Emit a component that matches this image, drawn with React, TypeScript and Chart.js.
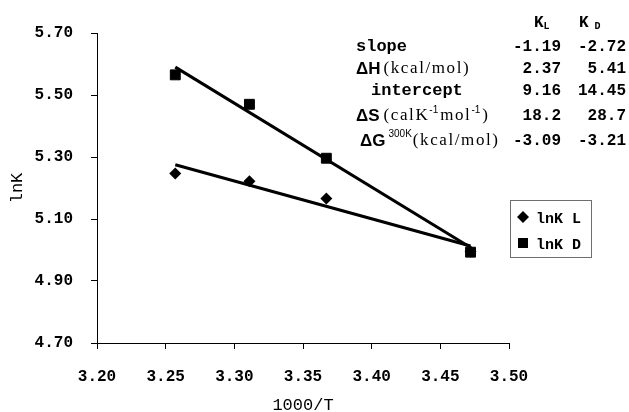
import React, { useEffect, useRef } from "react";
import { Chart, registerables } from "chart.js";
Chart.register(...registerables);

// ---- data ----
const invT = [3.257, 3.311, 3.367, 3.472];
const lnKL = [5.247, 5.222, 5.166, 4.995];
const lnKD = [5.565, 5.47, 5.296, 4.993];
const fitX = [3.257, 3.472];
const fitL = [5.275, 5.013];
const fitD = [5.59, 5.008];
const seriesNames = ["lnK L", "lnK D"];

const colHeads = ["K", "K"];
const colSubs = ["L", "D"];
const rowLabels = ["slope", "ΔH", "intercept", "ΔS", "ΔG"];
const valsL = ["-1.19", "2.37", "9.16", "18.2", "-3.09"];
const valsD = ["-2.72", "5.41", "14.45", "28.7", "-3.21"];

const MONO = "'Liberation Mono', 'Courier New', monospace";
const SANS = "'Liberation Sans', Arial, sans-serif";
const SERIF = "'Liberation Serif', 'Times New Roman', serif";

type Seg = { t: string; f: string; dy?: number; gap?: number; ls?: string };

function drawSegs(ctx: CanvasRenderingContext2D, x: number, y: number, segs: Seg[]) {
  let cx = x;
  for (const s of segs) {
    cx += s.gap || 0;
    ctx.font = s.f;
    (ctx as any).letterSpacing = s.ls || "0px";
    ctx.fillText(s.t, cx, y + (s.dy || 0));
    cx += ctx.measureText(s.t).width;
  }
  (ctx as any).letterSpacing = "0px";
}

const tablePlugin = {
  id: "tablePlugin",
  afterDraw(chart: any) {
    const ctx: CanvasRenderingContext2D = chart.ctx;
    ctx.save();
    ctx.fillStyle = "#000";
    ctx.textBaseline = "middle";
    ctx.textAlign = "left";
    // header
    const hx = [534, 579];
    colHeads.forEach((h, i) => {
      drawSegs(ctx, hx[i], 23, [
        { t: h, f: `bold 16px ${MONO}` },
        { t: colSubs[i], f: `bold 10px ${MONO}`, dy: 3, gap: i === 1 ? 6 : 0 },
      ]);
    });
    const ry = [47, 69, 91, 116, 141];
    const unitF = `17px ${SERIF}`;
    const LS = "1.6px";
    const supF = `10px ${SANS}`;
    const labF = `bold 17px ${MONO}`;
    const dF = `bold 17px ${SANS}`;
    const rowSegs: Seg[][] = [
      [{ t: rowLabels[0], f: labF }],
      [{ t: rowLabels[1], f: dF }, { t: "(kcal/mol)", f: unitF, gap: 3, ls: LS }],
      [{ t: rowLabels[2], f: labF }],
      [
        { t: rowLabels[3], f: dF },
        { t: "(calK", f: unitF, gap: 4, ls: LS },
        { t: "-1", f: supF, dy: -6 },
        { t: "mol", f: unitF, gap: 2, ls: LS },
        { t: "-1", f: supF, dy: -6 },
        { t: ")", f: unitF, gap: 2 },
      ],
      [
        { t: rowLabels[4], f: dF },
        { t: "300K", f: supF, dy: -7, gap: 3 },
        { t: "(kcal/mol)", f: unitF, gap: 1, ls: LS },
      ],
    ];
    const rx = [356, 356, 371, 356, 360];
    rowSegs.forEach((segs, i) => drawSegs(ctx, rx[i], ry[i], segs));
    ctx.textAlign = "right";
    ctx.font = `bold 16px ${MONO}`;
    valsL.forEach((v, i) => ctx.fillText(v, 561, ry[i]));
    valsD.forEach((v, i) => ctx.fillText(v, 626, ry[i]));

    // legend
    ctx.textAlign = "left";
    ctx.strokeStyle = "#6e6e6e";
    ctx.lineWidth = 1;
    ctx.strokeRect(510.5, 200.5, 81, 57);
    const ly = [217, 243];
    ctx.fillStyle = "#000";
    ctx.beginPath();
    ctx.moveTo(523, ly[0] - 6);
    ctx.lineTo(529, ly[0]);
    ctx.lineTo(523, ly[0] + 6);
    ctx.lineTo(517, ly[0]);
    ctx.closePath();
    ctx.fill();
    ctx.fillRect(518, ly[1] - 5, 10, 10);
    ctx.font = `bold 15px ${MONO}`;
    seriesNames.forEach((n, i) => ctx.fillText(n, 536, ly[i] + 2));
    ctx.restore();
  },
};

export default function App() {
  const ref = useRef<HTMLCanvasElement>(null);
  useEffect(() => {
    document.body.style.margin = "0";
    const tickFont = { family: MONO, size: 16, weight: "bold" as const };
    const chart = new Chart(ref.current!, {
      type: "scatter",
      data: {
        datasets: [
          {
            label: seriesNames[1],
            data: invT.map((x, i) => ({ x, y: lnKD[i] })),
            pointStyle: "rect",
            pointRadius: 7,
            backgroundColor: "#000",
            borderColor: "#000",
            borderWidth: 1,
          },
          {
            label: seriesNames[0],
            data: invT.map((x, i) => ({ x, y: lnKL[i] })),
            pointStyle: "rectRot",
            pointRadius: 6,
            backgroundColor: "#000",
            borderColor: "#000",
            borderWidth: 0,
          },
          {
            label: "fitD",
            data: fitX.map((x, i) => ({ x, y: fitD[i] })),
            showLine: true,
            pointRadius: 0,
            borderColor: "#000",
            borderWidth: 3,
          },
          {
            label: "fitL",
            data: fitX.map((x, i) => ({ x, y: fitL[i] })),
            showLine: true,
            pointRadius: 0,
            borderColor: "#000",
            borderWidth: 3,
          },
        ],
      },
      options: {
        responsive: false,
        animation: false,
        devicePixelRatio: 1,
        layout: { padding: { top: 33, right: 120, left: 0, bottom: 0 } },
        plugins: { legend: { display: false }, tooltip: { enabled: false } },
        scales: {
          x: {
            type: "linear",
            min: 3.2,
            max: 3.5,
            afterFit: (s: any) => {
              s.height = 69;
            },
            ticks: {
              stepSize: 0.05,
              callback: (v: any) => Number(v).toFixed(2),
              font: tickFont,
              color: "#000",
              padding: 18,
              maxRotation: 0,
            },
            grid: { drawOnChartArea: false, drawTicks: true, tickLength: 6, color: "#000" },
            border: { display: true, color: "#000", width: 1 },
            title: {
              display: true,
              text: "1000/T",
              font: { family: MONO, size: 17, lineHeight: 1 },
              color: "#000",
              padding: { top: 0, bottom: -2 },
            },
          },
          y: {
            min: 4.7,
            max: 5.7,
            afterFit: (s: any) => {
              s.width = 97;
            },
            ticks: {
              stepSize: 0.2,
              callback: (v: any) => Number(v).toFixed(2),
              font: tickFont,
              color: "#000",
              padding: 18,
            },
            grid: { drawOnChartArea: false, drawTicks: true, tickLength: 6, color: "#000" },
            border: { display: true, color: "#000", width: 1 },
            title: {
              display: true,
              text: "lnK",
              font: { family: MONO, size: 17, lineHeight: 1 },
              color: "#000",
              padding: { top: 9, bottom: 0 },
            },
          },
        },
      },
      plugins: [tablePlugin],
    });
    return () => chart.destroy();
  }, []);
  return <canvas ref={ref} width={629} height={412} style={{ display: "block" }} />;
}
